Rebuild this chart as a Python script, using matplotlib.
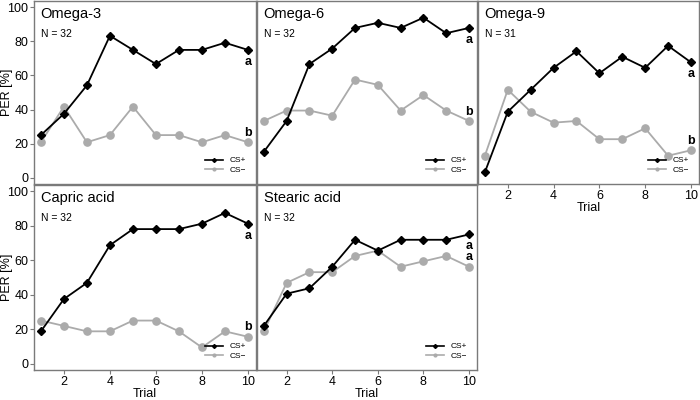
import matplotlib
matplotlib.use("Agg")
import matplotlib.pyplot as plt
from matplotlib.lines import Line2D

plt.rcParams['font.family'] = ['Liberation Sans', 'DejaVu Sans']

trials = [1, 2, 3, 4, 5, 6, 7, 8, 9, 10]

# PER [%] per trial, CS+ and CS-
omega3_plus = [25.0, 37.5, 54.2, 83.3, 75.0, 66.7, 75.0, 75.0, 79.2, 75.0]
omega3_minus = [20.8, 41.7, 20.8, 25.0, 41.7, 25.0, 25.0, 20.8, 25.0, 20.8]
omega6_plus = [15.2, 33.3, 66.7, 75.8, 87.9, 90.9, 87.9, 93.9, 84.8, 87.9]
omega6_minus = [33.3, 39.4, 39.4, 36.4, 57.6, 54.5, 39.4, 48.5, 39.4, 33.3]
omega9_plus = [3.2, 38.7, 51.6, 64.5, 74.2, 61.3, 71.0, 64.5, 77.4, 67.7]
omega9_minus = [12.9, 51.6, 38.7, 32.3, 33.3, 22.6, 22.6, 29.0, 12.9, 16.1]
capric_plus = [18.75, 37.5, 46.9, 68.75, 78.1, 78.1, 78.1, 81.25, 87.5, 81.25]
capric_minus = [25.0, 21.9, 18.75, 18.75, 25.0, 25.0, 18.75, 9.4, 18.75, 15.6]
stearic_plus = [21.9, 40.6, 43.75, 56.25, 71.9, 65.6, 71.9, 71.9, 71.9, 75.0]
stearic_minus = [18.75, 46.9, 53.1, 53.1, 62.5, 65.6, 56.25, 59.4, 62.5, 56.25]

names = ['Omega-3', 'Omega-6', 'Omega-9', 'Capric acid', 'Stearic acid']
n_bees = [32, 32, 31, 32, 32]
letters_plus = ['a', 'a', 'a', 'a', 'a']
letters_minus = ['b', 'b', 'b', 'b', 'a']

plus_series = [omega3_plus, omega6_plus, omega9_plus, capric_plus, stearic_plus]
minus_series = [omega3_minus, omega6_minus, omega9_minus, capric_minus, stearic_minus]

W, H = 700, 400
fig = plt.figure(figsize=(7, 4), dpi=100)

# panel boxes in pixels: left, top, right, bottom
boxes = [(34, 1, 256, 184), (257, 1, 477, 184), (478, 1, 699, 184),
         (34, 185, 256, 370), (257, 185, 477, 370)]

black = '#000000'
grey = '#ababab'
frame = '#7a7a7a'

for i, (l, t, r, b) in enumerate(boxes):
    ax = fig.add_axes([l / W, (H - b) / H, (r - l) / W, (b - t) / H])
    ax.plot(trials, minus_series[i], color=grey, lw=1.3, marker='o', ms=5.2,
            zorder=2)
    ax.plot(trials, plus_series[i], color=black, lw=1.3, marker='D', ms=4.3,
            zorder=3)
    ax.set_xlim(0.7, 10.35)
    ax.set_ylim(-3.7, 103.7)
    ax.set_xticks([2, 4, 6, 8, 10])
    ax.set_yticks([0, 20, 40, 60, 80, 100])
    for s in ax.spines.values():
        s.set_color(frame)
        s.set_linewidth(1.0)
    ax.tick_params(direction='out', length=3, color=frame, labelsize=9,
                   pad=1)
    if i in (0, 3):
        ax.set_ylabel('PER [%]', fontsize=9)
        ax.yaxis.set_label_coords(-0.095, 0.5)
    else:
        ax.tick_params(axis='y', left=False, labelleft=False)
    if i in (0, 1):
        ax.tick_params(axis='x', bottom=False, labelbottom=False)
    else:
        ax.set_xlabel('Trial', fontsize=9, labelpad=0)

    ax.text(0.03, 0.93, names[i], transform=ax.transAxes, fontsize=10.5,
            va='center', ha='left')
    ax.text(0.03, 0.82, 'N = %d' % n_bees[i], transform=ax.transAxes,
            fontsize=7.5, va='center', ha='left')
    ax.text(10, plus_series[i][-1] - 7, letters_plus[i], fontsize=9,
            fontweight='bold', ha='center', va='center')
    ax.text(10, minus_series[i][-1] + 5.5, letters_minus[i], fontsize=9,
            fontweight='bold', ha='center', va='center')

    handles = [Line2D([], [], color=black, lw=1.2, marker='D', ms=2),
               Line2D([], [], color=grey, lw=1.2, marker='o', ms=2)]
    ax.legend(handles, ['CS+', 'CS\u2212'], loc='lower right', frameon=False,
              fontsize=6, handlelength=2.2, handletextpad=0.8,
              labelspacing=0.2, borderaxespad=0.8)

fig.savefig('out.png', dpi=100)
